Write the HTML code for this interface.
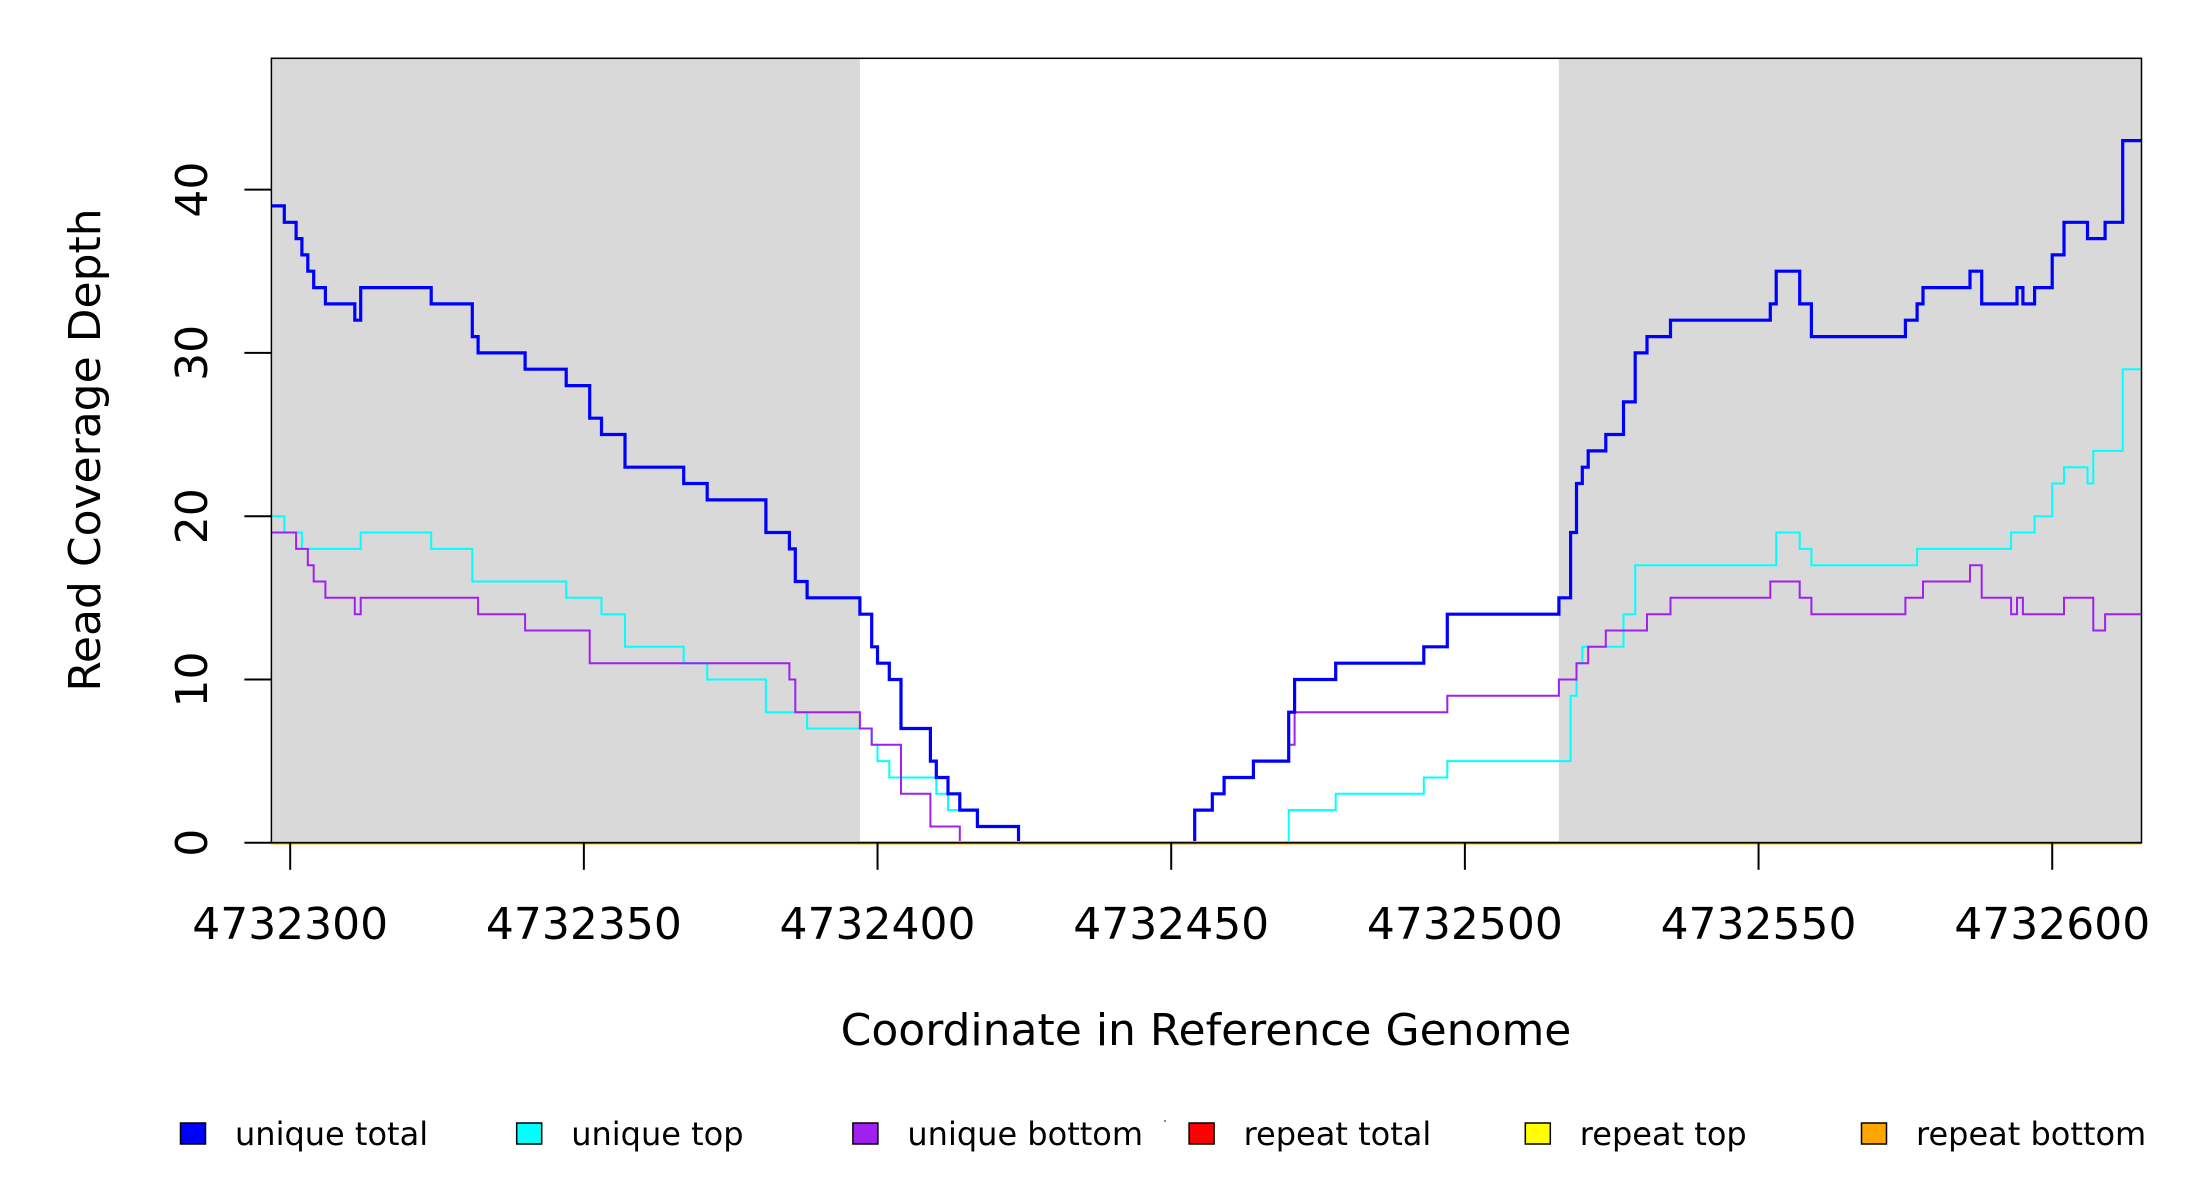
<!DOCTYPE html>
<html><head><meta charset="utf-8"><style>
html,body{margin:0;padding:0;background:#fff;}
svg{display:block;font-family:"DejaVu Sans","Liberation Sans",sans-serif;}
</style></head><body>
<svg id="chart" width="2200" height="1200" viewBox="0 0 2200 1200" xmlns="http://www.w3.org/2000/svg">
<g id="bg"></g>
<g id="series"></g>
<g id="axes"></g>
<text x="100" y="450" font-size="44" text-anchor="middle" transform="rotate(-90 100 450)">Read Coverage Depth</text>
<text x="1206" y="1045" font-size="44" text-anchor="middle">Coordinate in Reference Genome</text>
<g id="legend"></g>
<rect x="1164" y="1120" width="2" height="2" fill="#888"></rect>
</svg>
<script>
// ---- data ----
const xTicks = [4732300, 4732350, 4732400, 4732450, 4732500, 4732550, 4732600];
const yTicks = [0, 10, 20, 30, 40];
const shadedRegions = [[4732296.8, 4732397], [4732516, 4732615.2]];
const totalPos = [-3,-1,1,2,3,4,6,11,12,24,31,32,40,47,51,53,57,67,71,81,85,86,88,97,99,100,102,104,109,110,112,114,117,124,154,157,159,164,170,171,178,193,197,216,218,219,220,221,224,227,229,231,235,252,253,257,259,275,277,278,286,288,294,295,297,300,302,306,309,312];
const totalVal = [39,38,37,36,35,34,33,32,34,33,31,30,29,28,26,25,23,22,21,19,18,16,15,14,12,11,10,7,5,4,3,2,1,0,2,3,4,5,8,10,11,12,14,15,19,22,23,24,25,27,30,31,32,33,35,33,31,32,33,34,35,33,34,33,34,36,38,37,38,43];
const topPos = [-3,-1,2,12,24,31,47,53,57,67,71,81,88,99,100,102,110,112,117,124,170,178,193,197,218,219,220,227,229,253,257,259,277,293,297,300,302,306,307,312];
const topVal = [20,19,18,19,18,16,15,14,12,11,10,8,7,6,5,4,3,2,1,0,2,3,4,5,9,11,12,14,17,19,18,17,18,19,20,22,23,22,24,29];
const bottomPos = [-3,1,3,4,6,11,12,32,40,51,85,86,97,99,104,109,114,154,157,159,164,170,171,197,216,219,221,224,231,235,252,257,259,275,278,286,288,293,294,295,302,307,309];
const bottomVal = [19,18,17,16,15,14,15,14,13,11,10,8,7,6,3,1,0,2,3,4,5,6,8,9,10,11,12,13,14,15,16,15,14,15,16,17,15,14,15,14,15,13,14];
const repeatPos = [-3];
const repeatTotalVal = [0];
const repeatTopVal = [0];
const repeatBottomVal = [0];
const legendLabels = ["unique total","unique top","unique bottom","repeat total","repeat top","repeat bottom"];
const legendColors = ["#0000FF","#00FFFF","#A020F0","#FF0000","#FFFF00","#FFA500"];

// ---- scales ----
const L=271.4, R=2141.5, T=58.3, B=842.8;
const XMIN=4732296.8, XMAX=4732615.2, YMIN=0, YMAX=48.04;
const BASE=4732300;
function sx(v){return L+(v-XMIN)/(XMAX-XMIN)*(R-L);}
function sy(v){return B-(v-YMIN)/(YMAX-YMIN)*(B-T);}
const NS="http://www.w3.org/2000/svg";
function mk(tag,parent){const e=document.createElementNS(NS,tag);parent.appendChild(e);return e;}

const bg=document.getElementById('bg');
const r0=mk('rect',bg);r0.setAttribute('x',L);r0.setAttribute('y',T);r0.setAttribute('width',R-L);r0.setAttribute('height',B-T);r0.setAttribute('fill','#fff');


shadedRegions.forEach((s,i)=>{
  const r=mk('rect',bg);
  const a=Math.max(sx(s[0]),L), b=Math.min(sx(s[1]),R);
  r.setAttribute('x',a);r.setAttribute('y',T);r.setAttribute('width',b-a);r.setAttribute('height',B-T);r.setAttribute('fill','#D9D9D9');
  
  
});

function stepPath(pos,val){
  let d='';
  for(let i=0;i<pos.length;i++){
    const x0=i===0?L:sx(BASE+pos[i]);
    const x1=i+1<pos.length?sx(BASE+pos[i+1]):R;
    const y=sy(val[i]);
    d+=(i===0?'M':'L')+x0.toFixed(1)+','+y.toFixed(1)+'L'+x1.toFixed(1)+','+y.toFixed(1);
  }
  return d;
}
const sg=document.getElementById('series');
function addSeries(pos,val,color,w,name){
  const p=mk('path',sg);
  p.setAttribute('d',stepPath(pos,val));p.setAttribute('fill','none');p.setAttribute('stroke',color);p.setAttribute('stroke-width',w);
  
  
}
addSeries(topPos,topVal,'#00FFFF',2,'unique-top-line');
addSeries(bottomPos,bottomVal,'#A020F0',2,'unique-bottom-line');
addSeries(totalPos,totalVal,'#0000FF',3.2,'unique-total-line');
addSeries(repeatPos,repeatTotalVal,'#FF0000',3,'repeat-total-line');
addSeries(repeatPos,repeatTopVal,'#FFFF00',3,'repeat-top-line');
addSeries(repeatPos,repeatBottomVal,'#FFA500',3,'repeat-bottom-line');

const ax=document.getElementById('axes');
const box=mk('rect',ax);box.setAttribute('x',L);box.setAttribute('y',T);box.setAttribute('width',R-L);box.setAttribute('height',B-T);box.setAttribute('fill','none');box.setAttribute('stroke','#000');box.setAttribute('stroke-width','1.5');


xTicks.forEach(t=>{
  const x=sx(t);
  const l=mk('line',ax);l.setAttribute('x1',x);l.setAttribute('x2',x);l.setAttribute('y1',B);l.setAttribute('y2',B+27);l.setAttribute('stroke','#000');l.setAttribute('stroke-width','2');
  
  
  const tx=mk('text',ax);tx.setAttribute('x',x);tx.setAttribute('y',939);tx.setAttribute('font-size','44');tx.setAttribute('text-anchor','middle');tx.textContent=t;
  
  
});
yTicks.forEach(t=>{
  const y=sy(t);
  const l=mk('line',ax);l.setAttribute('x1',L-27);l.setAttribute('x2',L);l.setAttribute('y1',y);l.setAttribute('y2',y);l.setAttribute('stroke','#000');l.setAttribute('stroke-width','2');
  
  
  const tx=mk('text',ax);tx.setAttribute('x',207);tx.setAttribute('y',y);tx.setAttribute('font-size','44');tx.setAttribute('text-anchor','middle');tx.setAttribute('transform','rotate(-90 207 '+y+')');tx.textContent=t;
  
  
});

const lg=document.getElementById('legend');
legendLabels.forEach((lab,i)=>{
  const cx=193+i*336.2;
  const r=mk('rect',lg);r.setAttribute('x',cx-12.5);r.setAttribute('y',1123);r.setAttribute('width',25);r.setAttribute('height',21);r.setAttribute('fill',legendColors[i]);r.setAttribute('stroke','#000');r.setAttribute('stroke-width','1.5');
  
  
  const tx=mk('text',lg);tx.setAttribute('x',cx+42);tx.setAttribute('y',1145);tx.setAttribute('font-size','32');tx.textContent=lab;
  
  
});
</script>
</body></html>
